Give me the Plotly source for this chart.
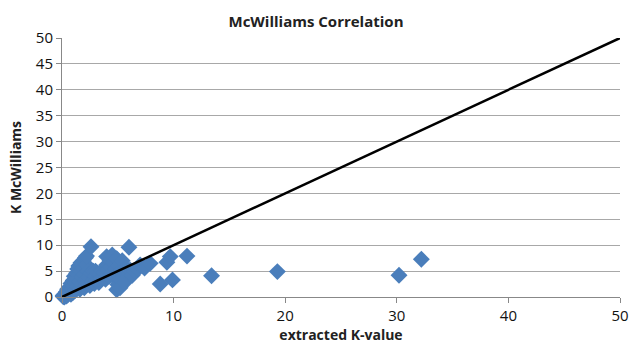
import plotly.graph_objects as go

# Extracted K-value vs. McWilliams K estimate
extracted_k = [
    0.1, 0.2, 0.1, 0.4, 0.2, 0.3, 0.3, 0.4, 0.5, 0.5, 0.6, 0.7, 0.7, 0.8, 0.8, 0.9,
    1.0, 1.0, 1.0, 1.1, 1.2, 1.2, 1.3, 1.3, 1.4, 1.4, 1.5, 1.5, 1.6, 1.6, 1.7, 1.7,
    1.8, 1.8, 1.9, 1.9, 2.0, 2.0, 2.1, 2.1, 2.2, 2.2, 2.3, 2.4, 2.2, 2.5, 2.6, 2.6,
    2.7, 2.8, 2.9, 3.0, 3.0, 3.1, 3.2, 3.3, 3.4, 3.5, 3.6, 3.8, 3.9, 4.0, 4.0, 4.1,
    4.2, 4.3, 4.4, 4.5, 4.5, 4.6, 4.7, 4.8, 4.9, 4.9, 5.0, 5.0, 5.1, 5.2, 5.2, 5.3,
    5.4, 5.5, 5.6, 5.7, 5.8, 6.0, 6.0, 6.1, 6.3, 6.5, 6.8, 7.0, 7.4, 7.9, 8.8, 9.4,
    9.7, 9.9, 11.2, 13.4, 19.3, 30.2, 32.2,
]
k_mcwilliams = [
    0.1, 0.0, 0.3, 0.2, 0.3, 0.2, 0.6, 1.0, 0.4, 1.5, 0.8, 2.0, 1.2, 0.5, 2.6, 1.6,
    3.2, 2.2, 0.9, 4.0, 2.8, 1.3, 4.6, 3.5, 5.4, 2.0, 6.0, 4.2, 3.0, 1.5, 6.6, 5.0,
    3.8, 2.3, 7.0, 5.6, 4.4, 1.8, 7.6, 3.2, 6.2, 2.5, 5.0, 3.8, 7.9, 2.2, 9.7, 4.6,
    3.0, 5.0, 2.6, 4.0, 5.0, 3.2, 4.6, 2.8, 4.4, 3.6, 5.0, 4.8, 3.4, 6.2, 7.8, 5.2,
    4.0, 7.0, 5.8, 8.1, 4.6, 6.6, 3.8, 5.4, 1.4, 7.4, 4.4, 2.4, 6.0, 3.4, 1.8, 5.0,
    7.0, 4.0, 2.8, 5.6, 3.6, 9.6, 4.6, 5.2, 4.2, 5.0, 5.4, 6.2, 5.6, 6.5, 2.5, 6.7,
    7.8, 3.3, 7.9, 4.1, 4.9, 4.2, 7.3,
]

# 1:1 reference line
line_x = [0, 50]
line_y = [0, 50]

x_ticks = [0, 10, 20, 30, 40, 50]
y_ticks = [0, 5, 10, 15, 20, 25, 30, 35, 40, 45, 50]

fig = go.Figure()
fig.add_trace(go.Scatter(
    x=extracted_k, y=k_mcwilliams, mode="markers",
    marker=dict(symbol="diamond", size=13, color="#4A7EBB", line=dict(width=0)),
    cliponaxis=False, showlegend=False,
))
fig.add_trace(go.Scatter(
    x=line_x, y=line_y, mode="lines",
    line=dict(color="black", width=2.5),
    cliponaxis=False, showlegend=False,
))

font_family = "Open Sans, Liberation Sans, sans-serif"

fig.update_layout(
    width=632, height=348,
    margin=dict(l=62, r=12, t=38, b=51),
    paper_bgcolor="white", plot_bgcolor="white",
    font=dict(family=font_family, color="black"),
    title=dict(text="<b>McWilliams Correlation</b>", x=0.5, xanchor="center",
               y=1 - 22 / 348, yanchor="middle", font=dict(size=15, color="#222")),
)
fig.update_xaxes(
    range=[0, 50], tickvals=x_ticks, ticks="outside", ticklen=5, tickcolor="#888",
    showgrid=False, zeroline=False, showline=True, linecolor="#888", linewidth=1,
    tickfont=dict(size=15, color="#111"), automargin=False,
    title=dict(text="<b>extracted K-value</b>", font=dict(size=14, color="#222"), standoff=6),
)
fig.update_yaxes(
    range=[0, 50], tickvals=y_ticks, ticks="outside", ticklen=5, tickcolor="#888",
    showgrid=True, gridcolor="#A8A8A8", gridwidth=1, zeroline=False,
    showline=True, linecolor="#888", linewidth=1,
    tickfont=dict(size=15, color="#111"), automargin=False,
    title=dict(text="<b>K McWilliams</b>", font=dict(size=14, color="#222"), standoff=10),
)

fig.write_html("out.html")
